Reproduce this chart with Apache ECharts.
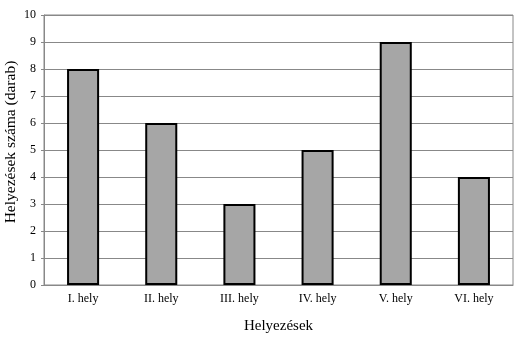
<!DOCTYPE html>
<html><head><meta charset="utf-8">
<script src="https://cdn.jsdelivr.net/npm/echarts@6/dist/echarts.min.js"></script>
<style>html,body{margin:0;padding:0;background:#fff}#c{width:523px;height:337px}</style>
</head><body><div id="c"></div>
<script>
const categories = ['I. hely','II. hely','III. hely','IV. hely','V. hely','VI. hely'];
const values = [8, 6, 3, 5, 9, 4];
const yTitle = 'Helyezések száma (darab)';
const xTitle = 'Helyezések';
const font = '"Liberation Serif","Times New Roman",serif';
const chart = echarts.init(document.getElementById('c'), null, {renderer:'canvas'});
chart.setOption({
  animation:false,
  backgroundColor:'#fff',
  grid:{left:44,top:15,right:10,bottom:52,show:true,borderColor:'#888',borderWidth:1,
    containLabel:false,outerBoundsMode:'none'},
  xAxis:{type:'category',data:categories,
    name:xTitle,nameLocation:'middle',nameGap:34,nameMoveOverlap:false,
    nameTextStyle:{fontFamily:font,fontSize:15,color:'#000'},
    axisLine:{lineStyle:{color:'#888'}},
    axisTick:{show:false},
    axisLabel:{fontFamily:font,fontSize:12,color:'#000',margin:8}},
  yAxis:{type:'value',min:0,max:10,interval:1,
    name:yTitle,nameLocation:'middle',nameGap:25,nameMoveOverlap:false,
    nameTextStyle:{fontFamily:font,fontSize:15.5,color:'#000',padding:[0,0,0,16]},
    axisLine:{show:true,lineStyle:{color:'#888'}},
    axisTick:{show:true,length:3,lineStyle:{color:'#888'}},
    splitLine:{lineStyle:{color:'#888'}},
    axisLabel:{fontFamily:font,fontSize:12,color:'#000',margin:8}},
  series:[{type:'bar',data:values,barWidth:'41%',
    itemStyle:{color:'#a6a6a6',borderColor:'#000',borderWidth:2}}]
});
</script></body></html>
